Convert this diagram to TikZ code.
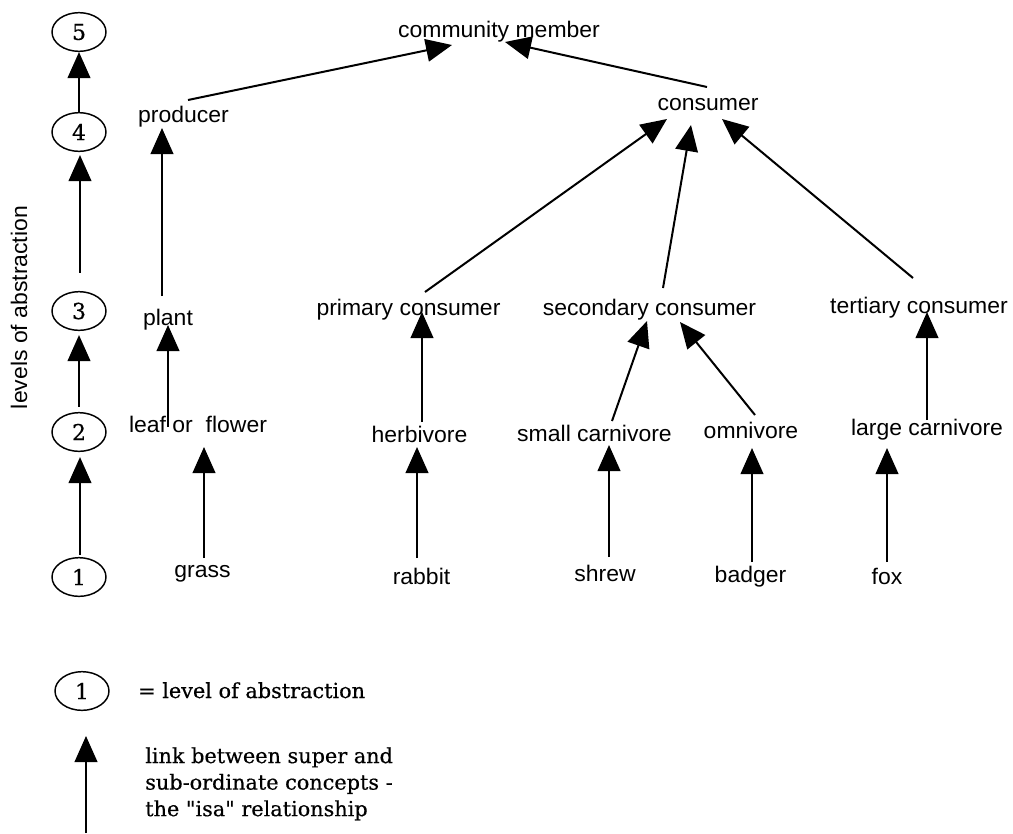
\documentclass[tikz,border=0pt]{standalone}
\usepackage{fontspec}
\usetikzlibrary{arrows.meta,calc,shapes.geometric}
\newfontfamily\labfont[FakeStretch=1.02]{Liberation Sans}
\newfontfamily\notefont[FakeBold=0.5]{DejaVu Serif}
\begin{document}
\begin{tikzpicture}[x=0.75pt,y=-0.75pt,
  lab/.style={font=\labfont\fontsize{16.9}{19}\selectfont, inner sep=0pt, anchor=base},
  lvl/.style={draw, line width=1.1pt, ellipse, inner sep=0pt, minimum width=40.5pt, minimum height=29pt,
              font=\notefont\fontsize{16.5}{18}\selectfont},
  note/.style={font=\notefont\fontsize{15.6}{19.9}\selectfont, inner sep=0pt},
  isa/.style={line width=1.5pt, -{Triangle[length=19.5pt,width=17pt]}}
]
\useasboundingbox (0,0) rectangle (1013,833);

% level ellipses
\node[lvl] (L5) at (79,32) {5};
\node[lvl] (L4) at (79,132) {4};
\node[lvl] (L3) at (79,311) {3};
\node[lvl] (L2) at (79,432) {2};
\node[lvl] (L1) at (79,577) {1};
\node[lab, rotate=90] (levlab) at (27,307.5) {levels of abstraction};

\draw[isa] (L4.north) -- (L5.south);
\draw[isa] ($(L3.north)+(1,-18)$) -- ($(L4.south)+(1,3)$);
\draw[isa] ($(L2.north)+(0,-5)$) -- ($(L3.south)+(0,4)$);
\draw[isa] ($(L1.north)+(1,-2)$) -- ($(L2.south)+(1,5)$);

% concept nodes
\node[lab] (cm) at (499,37) {community member};
\node[lab] (prod) at (183.5,122) {producer};
\node[lab] (cons) at (708,110) {consumer};
\node[lab] (plant) at (168,325) {plant};
\node[lab] (pc) at (408.5,315) {primary consumer};
\node[lab] (sc) at (649.5,315) {secondary consumer};
\node[lab] (tc) at (919,313) {tertiary consumer};
\node[lab] (leaf) at (198,432) {leaf or\ \ flower};
\node[lab] (herb) at (419.5,442) {herbivore};
\node[lab] (smc) at (594.5,441) {small carnivore};
\node[lab] (omni) at (751,438) {omnivore};
\node[lab] (lc) at (927,435) {large carnivore};
\node[lab] (grass) at (202.5,577) {grass};
\node[lab] (rabbit) at (421.5,584) {rabbit};
\node[lab] (shrew) at (605,581) {shrew};
\node[lab] (badger) at (750.5,582) {badger};
\node[lab] (fox) at (887,584) {fox};

% isa links
\draw[isa] ($(prod.base)+(4.5,-22)$) -- ($(cm.base)+(-47,8)$);
\draw[isa] ($(cons.base)+(-1,-23)$) -- ($(cm.base)+(6,5)$);
\draw[isa] ($(plant.base)+(-6,-29)$) -- ($(prod.base)+(-21.5,6)$);
\draw[isa] ($(leaf.base)+(-30,-5)$) -- ($(plant.base)+(0,0)$);
\draw[isa] ($(grass.base)+(1.5,-19)$) -- ($(leaf.base)+(6,15)$);
\draw[isa] ($(pc.base)+(16.5,-23)$) -- ($(cons.base)+(-41,9)$);
\draw[isa] ($(sc.base)+(13.5,-27)$) -- ($(cons.base)+(-17,15)$);
\draw[isa] ($(tc.base)+(-6,-35)$) -- ($(cons.base)+(14,9)$);
\draw[isa] ($(herb.base)+(2.5,-20)$) -- ($(pc.base)+(13.5,-3)$);
\draw[isa] ($(rabbit.base)+(-4.5,-26)$) -- ($(herb.base)+(-2.5,5)$);
\draw[isa] ($(smc.base)+(17.5,-20)$) -- ($(sc.base)+(-2.5,6)$);
\draw[isa] ($(omni.base)+(4,-23)$) -- ($(sc.base)+(30.5,7)$);
\draw[isa] ($(shrew.base)+(4,-24)$) -- ($(smc.base)+(14.5,4)$);
\draw[isa] ($(badger.base)+(1.5,-20)$) -- ($(omni.base)+(1,10)$);
\draw[isa] ($(lc.base)+(0,-15)$) -- ($(tc.base)+(8,-1)$);
\draw[isa] ($(fox.base)+(0,-22)$) -- ($(lc.base)+(-40,13)$);

% legend
\node[lvl] (LG) at (82,691) {1};
\node[note, anchor=base west] (legtxt) at (138,698) {= level of abstraction};
\coordinate (legtail) at (86,833);
\coordinate (legtip) at (86,736);
\draw[isa] (legtail) -- (legtip);
\node[note, anchor=north west, align=left] (linktxt) at (145,747)
  {link between super and\\sub-ordinate concepts -\\the "isa" relationship};
\end{tikzpicture}
\end{document}
